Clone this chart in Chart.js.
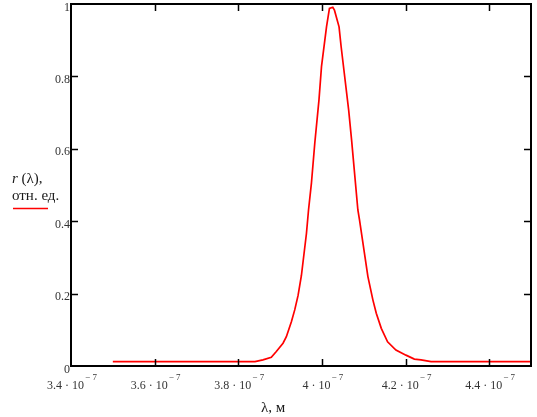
<!DOCTYPE html>
<html>
<head>
<meta charset="utf-8">
<script src="https://cdn.jsdelivr.net/npm/chart.js@4/dist/chart.umd.min.js"></script>
<style>
  html, body { margin: 0; padding: 0; background: #fff; }
  #wrap { width: 537px; height: 417px; }
</style>
</head>
<body>
<div id="wrap"><canvas id="myChart" width="537" height="417"></canvas></div>
<script>
// wavelength, m
const lambda = [
  3.500e-7, 3.840e-7, 3.859e-7, 3.879e-7, 3.891e-7, 3.907e-7, 3.915e-7, 3.927e-7,
  3.935e-7, 3.943e-7, 3.951e-7, 3.963e-7, 3.968e-7, 3.975e-7, 3.983e-7, 3.993e-7,
  3.999e-7, 4.011e-7, 4.018e-7, 4.026e-7, 4.030e-7, 4.041e-7, 4.046e-7, 4.064e-7,
  4.071e-7, 4.086e-7, 4.090e-7, 4.110e-7, 4.122e-7, 4.130e-7, 4.142e-7, 4.157e-7,
  4.177e-7, 4.201e-7, 4.221e-7, 4.237e-7, 4.261e-7, 4.500e-7
];
// r(lambda), rel. units
const rValues = [
  0.012, 0.012, 0.017, 0.024, 0.040, 0.063, 0.081, 0.122,
  0.155, 0.195, 0.250, 0.366, 0.431, 0.506, 0.616, 0.735,
  0.827, 0.937, 0.988, 0.991, 0.983, 0.937, 0.882, 0.707,
  0.624, 0.431, 0.403, 0.247, 0.182, 0.146, 0.104, 0.067,
  0.044, 0.030, 0.019, 0.017, 0.012, 0.012
];

const xTicks = [3.4e-7, 3.6e-7, 3.8e-7, 4.0e-7, 4.2e-7, 4.4e-7];
const xTickMain = ['3.4 · 10', '3.6 · 10', '3.8 · 10', '4 · 10', '4.2 · 10', '4.4 · 10'];
const xTickExp = '− 7';
const yTicks = [0, 0.2, 0.4, 0.6, 0.8, 1];
const yTickLabels = ['0', '0.2', '0.4', '0.6', '0.8', '1'];

const serif = '"Liberation Serif", "Times New Roman", serif';

const framePlugin = {
  id: 'mathcadFrame',
  afterDraw(chart) {
    const ctx = chart.ctx;
    const a = chart.chartArea;
    const xs = chart.scales.x, ys = chart.scales.y;
    ctx.save();
    // frame
    ctx.strokeStyle = '#000';
    ctx.lineWidth = 2;
    ctx.strokeRect(a.left, a.top, a.right - a.left, a.bottom - a.top);
    // inside ticks on all four sides
    ctx.lineWidth = 1.5;
    ctx.beginPath();
    xTicks.forEach(v => {
      const px = Math.round(xs.getPixelForValue(v)) + 0.5;
      if (px <= a.left + 2 || px >= a.right - 2) return;
      ctx.moveTo(px, a.bottom); ctx.lineTo(px, a.bottom - 7);
      ctx.moveTo(px, a.top); ctx.lineTo(px, a.top + 7);
    });
    yTicks.forEach(v => {
      const py = Math.round(ys.getPixelForValue(v)) + 0.5;
      if (py <= a.top + 2 || py >= a.bottom - 2) return;
      ctx.moveTo(a.left, py); ctx.lineTo(a.left + 7, py);
      ctx.moveTo(a.right, py); ctx.lineTo(a.right - 7, py);
    });
    ctx.stroke();

    // x tick labels with raised exponent
    ctx.fillStyle = '#333';
    ctx.textBaseline = 'alphabetic';
    xTicks.forEach((v, i) => {
      const px = xs.getPixelForValue(v);
      ctx.font = '12px ' + serif;
      const w1 = ctx.measureText(xTickMain[i]).width;
      ctx.font = '9px ' + serif;
      const w2 = ctx.measureText(xTickExp).width;
      const x0 = px - (w1 + 1 + w2) / 2 + 1;
      ctx.textAlign = 'left';
      ctx.font = '12px ' + serif;
      ctx.fillText(xTickMain[i], x0, 389);
      ctx.font = '9px ' + serif;
      ctx.fillText(xTickExp, x0 + w1 + 1, 380);
    });

    // y tick labels
    ctx.font = '12px ' + serif;
    ctx.textAlign = 'right';
    yTicks.forEach((v, i) => {
      const py = ys.getPixelForValue(v);
      ctx.fillText(yTickLabels[i], 70, py + 6.5);
    });

    // axis titles
    ctx.fillStyle = '#1a1a1a';
    ctx.textAlign = 'left';
    ctx.font = '15px ' + serif;
    ctx.fillText('λ, м', 261, 412);
    ctx.font = 'italic 15px ' + serif;
    ctx.fillText('r', 12, 183);
    const rw = ctx.measureText('r').width;
    ctx.font = '15px ' + serif;
    ctx.fillText(' (λ),', 12 + rw, 183);
    ctx.fillText('отн. ед.', 12, 199.5);

    // legend sample line
    ctx.strokeStyle = '#ff0000';
    ctx.lineWidth = 1.5;
    ctx.beginPath();
    ctx.moveTo(13, 208.5);
    ctx.lineTo(48, 208.5);
    ctx.stroke();
    ctx.restore();
  }
};

new Chart(document.getElementById('myChart').getContext('2d'), {
  type: 'line',
  data: {
    datasets: [{
      label: 'r (λ)',
      data: lambda.map((x, i) => ({ x: x, y: rValues[i] })),
      borderColor: '#ff0000',
      borderWidth: 1.7,
      pointRadius: 0,
      tension: 0,
      fill: false
    }]
  },
  options: {
    responsive: false,
    animation: false,
    events: [],
    layout: { padding: { top: 4, right: 6, left: 0, bottom: 0 } },
    plugins: { legend: { display: false }, tooltip: { enabled: false } },
    scales: {
      x: {
        type: 'linear',
        min: 3.4e-7,
        max: 4.5e-7,
        grid: { display: false },
        border: { display: false },
        ticks: { display: false },
        afterBuildTicks: (s) => { s.ticks = xTicks.map(v => ({ value: v })); },
        afterFit: (s) => { s.height = 51; }
      },
      y: {
        min: 0,
        max: 1,
        grid: { display: false },
        border: { display: false },
        ticks: { display: false },
        afterBuildTicks: (s) => { s.ticks = yTicks.map(v => ({ value: v })); },
        afterFit: (s) => { s.width = 71; }
      }
    }
  },
  plugins: [framePlugin]
});
</script>
</body>
</html>
